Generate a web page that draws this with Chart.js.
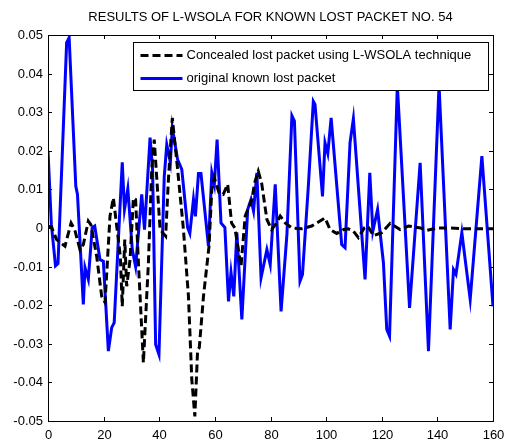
<!DOCTYPE html>
<html>
<head>
<meta charset="utf-8">
<script src="https://cdn.jsdelivr.net/npm/chart.js@4.4.1/dist/chart.umd.min.js"></script>
<style>
  html, body { margin: 0; padding: 0; background: #fff; }
  canvas { display: block; }
</style>
</head>
<body>
<canvas id="chart" width="507" height="444"></canvas>
<script>
const titleText = 'RESULTS OF L-WSOLA FOR KNOWN LOST PACKET NO. 54';
const legendLabels = ['Concealed lost packet using L-WSOLA technique', 'original known lost packet'];

const xTicks = [0, 20, 40, 60, 80, 100, 120, 140, 160];
const yTicks = [0.05, 0.04, 0.03, 0.02, 0.01, 0, -0.01, -0.02, -0.03, -0.04, -0.05];
const yTickLabels = ['0.05', '0.04', '0.03', '0.02', '0.01', '0', '-0.01', '-0.02', '-0.03', '-0.04', '-0.05'];

// concealed packet (black dashed)
const concealedX = [0, 1.3, 3.1, 6.1, 8.3, 9.6, 11.5, 12.7, 14.5, 15.4, 17.5, 19.3, 20.5, 22.3, 23.5, 24.7, 26, 26.7, 27.6, 28.3,
  29.5, 30.7, 31.5, 32.5, 34.3, 36.1, 37.3, 38.2, 40.3, 42.3, 43.3, 44.7, 46.6, 48.7, 50.5, 51.7, 52.8, 53.8, 54.4, 55.9,
  57.9, 58.9, 59.8, 61.5, 63, 64.6, 66, 67.2, 69.4, 70.9, 73.3, 74.3, 75.6, 76.8, 78.7, 80.4, 82.2, 83.5, 85.3, 87.7,
  91.2, 94.8, 97.8, 99.6, 101.4, 103.8, 106.3, 108, 109.8, 111.6, 113.7, 115, 117, 120, 123, 126.6, 129.6, 134, 136.2, 140,
  144.6, 150, 160];
const concealedY = [0.0005, 0.0002, -0.003, -0.0047, 0.0013, -0.0004, -0.0056, -0.0043, 0.0018, 0.0009, -0.0073, -0.0177, -0.0193, 0.0031, 0.0078, 0.0005, -0.0073, -0.0203, -0.003, -0.0151,
  -0.0082, 0.0078, 0.0074, -0.0089, -0.0349, -0.009, 0.0152, 0.0229, -0.0004, -0.0021, 0.0126, 0.0285, 0.0152, -0.0004, -0.0177, -0.0392, -0.0488, -0.0315, -0.031, -0.0177,
  -0.0047, 0.010, 0.013, 0.0091, 0.0087, 0.0113, 0.0013, 0, -0.0099, 0.0031, 0.0074, 0.0117, 0.0147, 0.0117, 0.0022, -0.0004, 0.0013, 0.0031, 0.0013, 0,
  -0.0002, 0.0005, 0.0018, 0.0026, -0.0004, -0.0014, -0.0004, -0.0002, -0.0008, -0.0025, 0, 0.0005, -0.002, -0.0012, 0.0012, -0.0004, 0.0005, 0, -0.0006, 0,
  0, -0.0002, -0.0002];

// original packet (blue solid)
const originalX = [0, 1.2, 2.7, 3.6, 6.7, 7.6, 10, 10.6, 12.7, 13.3, 14.5, 15.9, 16.8, 18.7, 19.9, 21.7, 22.9, 23.8, 26.7, 27.5,
  28.7, 30.3, 31.5, 33.7, 34.7, 36.7, 37.6, 38.7, 39.9, 41.8, 42.7, 44, 44.7, 46.6, 48.1, 50.2, 51, 52.3, 53, 54.1,
  55, 57.7, 58.9, 59.8, 60.8, 62.2, 63.6, 64.9, 65.8, 66.8, 67.9, 69.7, 71.8, 73, 73.9, 75.1, 76.6, 78.7, 79.9, 81.7,
  83.8, 85.9, 87.7, 88.6, 90.6, 91.5, 93.6, 95.4, 96, 98.2, 98.7, 99.6, 100.6, 101.8, 105.6, 106.8, 108.6, 109.8, 114, 115.7,
  116.8, 118.5, 120.6, 121.8, 122.8, 125.6, 130, 133.8, 136.8, 140.6, 144.6, 145.8, 146.7, 148.8, 150, 151.8, 156, 160];
const originalY = [0.020, 0.001, -0.0098, -0.0092, 0.048, 0.0493, 0.0108, 0.0087, -0.0198, -0.0102, -0.0133, 0.0001, 0.0005, -0.0082, -0.0086, -0.0319, -0.0258, -0.0245, 0.017, 0.0048,
  0.0102, -0.0056, -0.010, 0.0087, -0.0004, 0.0234, 0.0152, -0.0302, -0.0328, 0.0134, 0.0216, 0.017, 0.026, 0.0177, 0.0152, 0.0001, -0.0014, 0.0074, 0.003, 0.0141,
  0.0141, -0.0047, 0.0143, 0.0113, 0.0229, 0.0013, 0.0001, -0.019, -0.0115, -0.0177, -0.0011, -0.0237, 0.0048, 0.0074, 0.0044, 0.0143, -0.0129, -0.0056, -0.0095, 0.0113,
  -0.0216, -0.0017, 0.0291, 0.0277, -0.0138, -0.012, 0.0108, 0.0328, 0.032, 0.0126, 0.0082, 0.0221, 0.0193, 0.0285, -0.0043, -0.0051, 0.0221, 0.0283, -0.0133, 0.0143,
  -0.0008, 0.0048, -0.009, -0.0263, -0.028, 0.037, -0.0207, 0.0169, -0.0319, 0.037, -0.0263, -0.0108, -0.012, -0.0012, -0.0082, -0.0185, 0.0186, -0.0203];

const font = '13px "Liberation Sans", Arial, sans-serif';
const dash = [8, 4];

function toPoints(xs, ys) {
  return xs.map((x, i) => ({ x, y: ys[i] }));
}

// MATLAB style frame: box, inward ticks, tick labels, title and boxed legend
const matlabFrame = {
  id: 'matlabFrame',
  beforeDraw(chart) {
    const ctx = chart.ctx;
    ctx.save();
    ctx.fillStyle = '#fff';
    ctx.fillRect(0, 0, chart.width, chart.height);
    ctx.restore();
  },
  afterDatasetsDraw(chart) {
    const { ctx, chartArea: a, scales } = chart;
    const tick = 4;
    ctx.save();
    ctx.strokeStyle = '#000';
    ctx.lineWidth = 1;
    ctx.setLineDash([]);
    ctx.strokeRect(Math.round(a.left) + 0.5, Math.round(a.top) + 0.5, Math.round(a.right - a.left), Math.round(a.bottom - a.top));

    ctx.fillStyle = '#000';
    ctx.font = font;
    ctx.beginPath();
    ctx.textAlign = 'center';
    ctx.textBaseline = 'top';
    xTicks.forEach((v) => {
      const px = Math.round(scales.x.getPixelForValue(v)) + 0.5;
      ctx.moveTo(px, a.bottom);
      ctx.lineTo(px, a.bottom - tick);
      ctx.moveTo(px, a.top);
      ctx.lineTo(px, a.top + tick);
      ctx.fillText(String(v), px, a.bottom + 8);
    });
    ctx.textAlign = 'right';
    ctx.textBaseline = 'middle';
    yTicks.forEach((v, i) => {
      const py = Math.round(scales.y.getPixelForValue(v)) + 0.5;
      ctx.moveTo(a.left, py);
      ctx.lineTo(a.left + tick, py);
      ctx.moveTo(a.right, py);
      ctx.lineTo(a.right - tick, py);
      ctx.fillText(yTickLabels[i], a.left - 5, py);
    });
    ctx.stroke();

    ctx.textAlign = 'center';
    ctx.textBaseline = 'middle';
    ctx.fillText(titleText, (a.left + a.right) / 2, 17);

    // legend box
    const lx = 133.5, ly = 42.5, lw = 355, lh = 48;
    ctx.fillStyle = '#fff';
    ctx.fillRect(lx, ly, lw, lh);
    ctx.strokeRect(lx, ly, lw, lh);
    const rows = [
      { color: '#000', dash, width: 3, y: ly + 13 },
      { color: '#0000ff', dash: [], width: 3, y: ly + 36 },
    ];
    rows.forEach((r, i) => {
      ctx.beginPath();
      ctx.strokeStyle = r.color;
      ctx.lineWidth = r.width;
      ctx.setLineDash(r.dash);
      ctx.moveTo(lx + 7, r.y);
      ctx.lineTo(lx + 49, r.y);
      ctx.stroke();
      ctx.fillStyle = '#000';
      ctx.textAlign = 'left';
      ctx.fillText(legendLabels[i], lx + 53, r.y);
    });
    ctx.restore();
  },
};

new Chart(document.querySelector('#chart'), {
  type: 'line',
  data: {
    datasets: [
      {
        label: legendLabels[0],
        data: toPoints(concealedX, concealedY),
        borderColor: '#000',
        borderWidth: 3,
        borderDash: dash,
        pointRadius: 0,
        tension: 0,
        fill: false,
      },
      {
        label: legendLabels[1],
        data: toPoints(originalX, originalY),
        borderColor: '#0000ff',
        borderWidth: 3,
        pointRadius: 0,
        tension: 0,
        fill: false,
      },
    ],
  },
  options: {
    responsive: false,
    animation: false,
    layout: { padding: { left: 48, right: 14, top: 35, bottom: 23 } },
    plugins: { legend: { display: false }, tooltip: { enabled: false }, title: { display: false } },
    scales: {
      x: { type: 'linear', min: 0, max: 160, display: false },
      y: { type: 'linear', min: -0.05, max: 0.05, display: false },
    },
  },
  plugins: [matlabFrame],
});
</script>
</body>
</html>
